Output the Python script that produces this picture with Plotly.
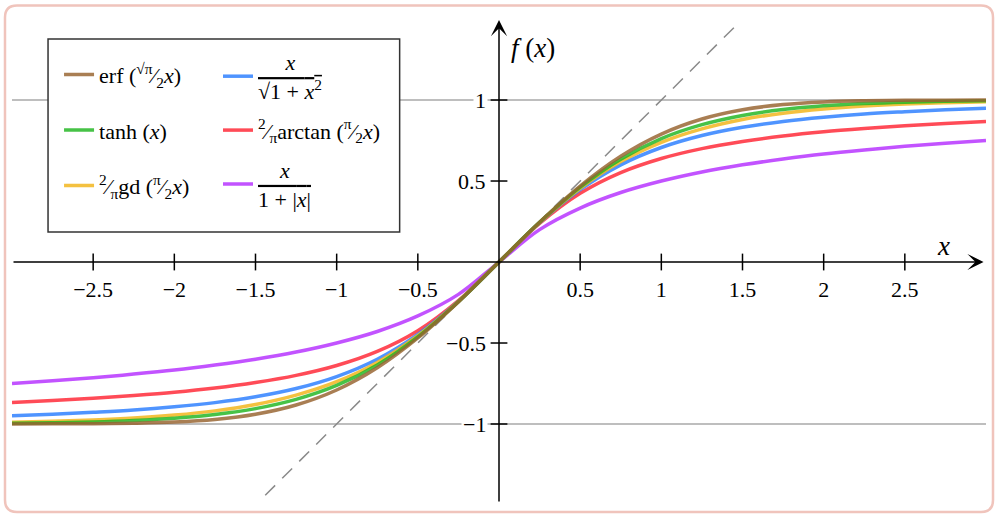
import plotly.graph_objects as go

# ---------------- data ----------------
x_vals = [-3.0, -2.75, -2.5, -2.25, -2.0, -1.75, -1.5, -1.25, -1.0, -0.75, -0.5, -0.25, 0.0,
          0.25, 0.5, 0.75, 1.0, 1.25, 1.5, 1.75, 2.0, 2.25, 2.5, 2.75, 3.0]

erf_vals = [-1.000, -0.999, -0.998, -0.995, -0.988, -0.972, -0.940, -0.883, -0.790, -0.653, -0.469, -0.246, 0.0,
            0.246, 0.469, 0.653, 0.790, 0.883, 0.940, 0.972, 0.988, 0.995, 0.998, 0.999, 1.000]
tanh_vals = [-0.995, -0.992, -0.987, -0.978, -0.964, -0.941, -0.905, -0.848, -0.762, -0.635, -0.462, -0.245, 0.0,
             0.245, 0.462, 0.635, 0.762, 0.848, 0.905, 0.941, 0.964, 0.978, 0.987, 0.992, 0.995]
gd_vals = [-0.989, -0.983, -0.975, -0.963, -0.945, -0.919, -0.880, -0.822, -0.739, -0.620, -0.455, -0.244, 0.0,
           0.244, 0.455, 0.620, 0.739, 0.822, 0.880, 0.919, 0.945, 0.963, 0.975, 0.983, 0.989]
sqrt_vals = [-0.949, -0.940, -0.928, -0.914, -0.894, -0.868, -0.832, -0.781, -0.707, -0.600, -0.447, -0.243, 0.0,
             0.243, 0.447, 0.600, 0.707, 0.781, 0.832, 0.868, 0.894, 0.914, 0.928, 0.940, 0.949]
atan_vals = [-0.867, -0.855, -0.841, -0.824, -0.804, -0.778, -0.744, -0.700, -0.639, -0.552, -0.424, -0.238, 0.0,
             0.238, 0.424, 0.552, 0.639, 0.700, 0.744, 0.778, 0.804, 0.824, 0.841, 0.855, 0.867]
abs_vals = [-0.750, -0.733, -0.714, -0.692, -0.667, -0.636, -0.600, -0.556, -0.500, -0.429, -0.333, -0.200, 0.0,
            0.200, 0.333, 0.429, 0.500, 0.556, 0.600, 0.636, 0.667, 0.692, 0.714, 0.733, 0.750]

x_ticks = [-2.5, -2.0, -1.5, -1.0, -0.5, 0.5, 1.0, 1.5, 2.0, 2.5]
x_tick_labels = ["\u22122.5", "\u22122", "\u22121.5", "\u22121", "\u22120.5", "0.5", "1", "1.5", "2", "2.5"]
y_ticks = [1.0, 0.5, -0.5, -1.0]
y_tick_labels = ["1", "0.5", "\u22120.5", "\u22121"]
ref_levels = [1.0, -1.0]
diag_x = [-1.44, 1.48]
diag_y = [-1.44, 1.48]

X_RANGE = [-3.0, 3.0]
Y_RANGE = [-1.5, 1.494]

FONT = "Liberation Serif, Times New Roman, serif"
NB = "\u00a0"

fig = go.Figure()

# dashed identity line
fig.add_trace(go.Scatter(x=diag_x, y=diag_y, mode="lines", showlegend=False, hoverinfo="skip",
                         line=dict(color="#8a8a8a", width=1.5, dash="14px,10px"), zorder=0))

series = [
    # name, values, colour, legend, rank, zorder
    ("erf" + NB + "(<sup>\u221a\u03c0</sup>\u2044<sub>2</sub><i>x</i>)", erf_vals, "rgba(150,98,45,0.82)", "legend", 1, 6),
    ("tanh" + NB + "(<i>x</i>)", tanh_vals, "rgba(30,180,30,0.82)", "legend", 2, 5),
    ("<sup>2</sup>\u2044<sub>\u03c0</sub>gd" + NB + "(<sup>\u03c0</sup>\u2044<sub>2</sub><i>x</i>)", gd_vals, "rgba(242,182,30,0.85)", "legend", 3, 4),
    (NB * 5 + "<i>x</i><br><span style='text-decoration:overline'>\u221a1" + NB + "+" + NB + "<i>x</i><sup>2</sup></span>",
     sqrt_vals, "rgba(40,125,255,0.82)", "legend2", 1, 3),
    ("<sup>2</sup>\u2044<sub>\u03c0</sub>arctan" + NB + "(<sup>\u03c0</sup>\u2044<sub>2</sub><i>x</i>)", atan_vals, "rgba(255,35,50,0.82)", "legend2", 2, 2),
    (NB * 4 + "<i>x</i><br><span style='text-decoration:overline'>1" + NB + "+" + NB + "|<i>x</i>|</span>",
     abs_vals, "rgba(180,45,255,0.82)", "legend2", 3, 1),
]

for i, (name, vals, col, leg, rank, z) in enumerate(series):
    fig.add_trace(go.Scatter(x=x_vals, y=vals, mode="lines", name=name, legend=leg,
                             legendgroup="g%d" % i, legendrank=rank, zorder=z,
                             line=dict(color=col, width=3.5, shape="spline"), hoverinfo="skip"))

# tick marks crossing the axes
fig.add_trace(go.Scatter(x=x_ticks, y=[0] * len(x_ticks), mode="markers", showlegend=False, hoverinfo="skip",
                         marker=dict(symbol="line-ns", size=12, color="black", line=dict(color="black", width=1.5)),
                         zorder=7))
fig.add_trace(go.Scatter(x=[0] * len(y_ticks), y=y_ticks, mode="markers", showlegend=False, hoverinfo="skip",
                         marker=dict(symbol="line-ew", size=12, color="black", line=dict(color="black", width=1.5)),
                         zorder=7))

x_axis_pos = (0 - Y_RANGE[0]) / (Y_RANGE[1] - Y_RANGE[0])

shapes = []
for lv in ref_levels:
    shapes.append(dict(type="line", xref="paper", x0=0, x1=1, yref="y", y0=lv, y1=lv,
                       line=dict(color="#a8a8a8", width=1.5), layer="below"))
# legend frame
shapes.append(dict(type="rect", xref="paper", yref="paper", x0=0.037, x1=0.398, y0=0.563, y1=0.961,
                   fillcolor="white", line=dict(color="#333333", width=1.5), layer="below"))
# rounded outer border
x0, x1, yb, yt = -0.00719, 1.00719, -0.01443, 1.0299
rx, ry = 12 / 974, 12 / 485
path = (f"M{x0+rx},{yb} L{x1-rx},{yb} Q{x1},{yb} {x1},{yb+ry} L{x1},{yt-ry} Q{x1},{yt} {x1-rx},{yt} "
        f"L{x0+rx},{yt} Q{x0},{yt} {x0},{yt-ry} L{x0},{yb+ry} Q{x0},{yb} {x0+rx},{yb} Z")
shapes.append(dict(type="path", xref="paper", yref="paper", path=path,
                   line=dict(color="#f0c4bc", width=2.5), layer="above"))

annotations = [
    # axis arrows
    dict(x=2.985, y=0, ax=X_RANGE[0], ay=0, xref="x", yref="y", axref="x", ayref="y", text="",
         showarrow=True, arrowhead=3, arrowsize=1.8, arrowwidth=1.5, arrowcolor="black", standoff=0),
    dict(x=0, y=Y_RANGE[1], ax=0, ay=-1.488, xref="x", yref="y", axref="x", ayref="y", text="",
         showarrow=True, arrowhead=3, arrowsize=1.8, arrowwidth=1.5, arrowcolor="black", standoff=0),
    # axis titles
    dict(x=0.06, y=1.32, xref="x", yref="y", xanchor="left", yanchor="middle", showarrow=False,
         text="<i>f</i>" + NB + "(<i>x</i>)", font=dict(family=FONT, size=27, color="black")),
    dict(x=2.74, y=0.10, xref="x", yref="y", xanchor="center", yanchor="middle", showarrow=False,
         text="<i>x</i>", font=dict(family=FONT, size=27, color="black")),
]
for v, lab in zip(y_ticks, y_tick_labels):
    annotations.append(dict(x=0, y=v, xref="x", yref="y", xanchor="right", yanchor="middle", xshift=-11,
                            showarrow=False, text=lab, bgcolor="white", borderpad=1,
                            font=dict(family=FONT, size=22, color="black")))

legend_common = dict(xanchor="left", yanchor="middle", bgcolor="rgba(0,0,0,0)", borderwidth=0,
                     font=dict(family=FONT, size=22, color="black"), itemwidth=30,
                     traceorder="grouped", itemclick=False, itemdoubleclick=False)

fig.update_layout(
    width=999, height=517,
    margin=dict(l=12, r=13, t=20, b=12),
    paper_bgcolor="white", plot_bgcolor="white",
    showlegend=True,
    legend=dict(x=0.0483, y=0.773, tracegroupgap=24, **legend_common),
    legend2=dict(x=0.2115, y=0.773, tracegroupgap=8, **legend_common),
    xaxis=dict(range=X_RANGE, showgrid=False, zeroline=False, showline=False,
               tickmode="array", tickvals=x_ticks, ticktext=x_tick_labels, ticks="",
               anchor="free", position=x_axis_pos, ticklabelstandoff=12,
               tickfont=dict(family=FONT, size=22, color="black"), fixedrange=True),
    yaxis=dict(range=Y_RANGE, visible=False, fixedrange=True),
    shapes=shapes,
    annotations=annotations,
)

fig.write_html("out.html", config={"displayModeBar": False, "staticPlot": True},
               post_script="document.body.style.margin='0px';")
